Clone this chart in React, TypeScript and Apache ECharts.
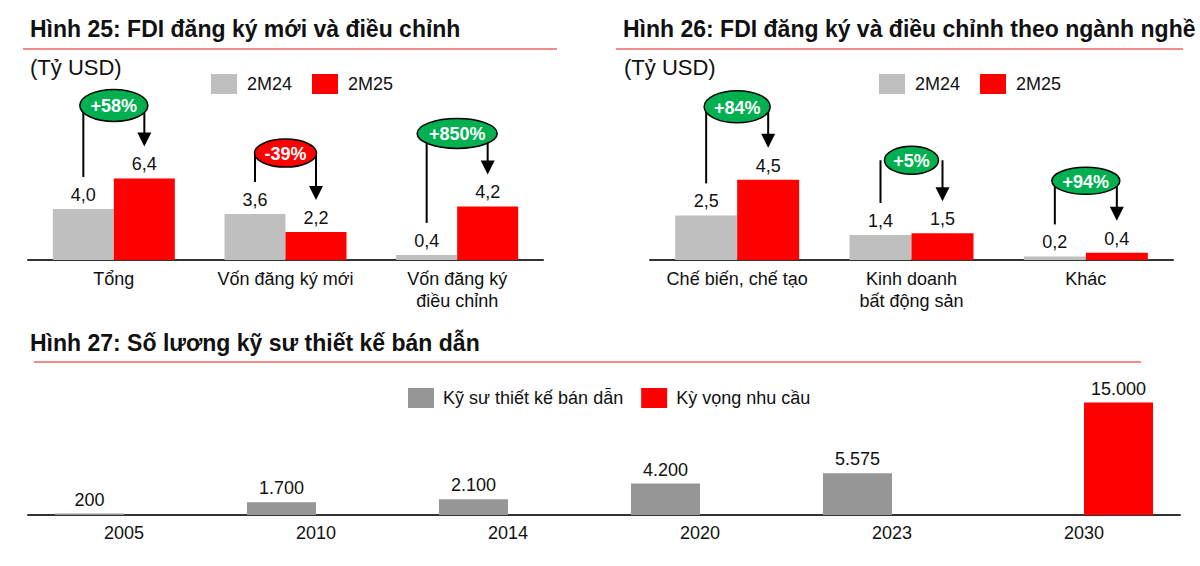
import React, { useEffect, useRef } from 'react';
import * as echarts from 'echarts';

// ---------- data ----------
const fdiCategories = ['Tổng', 'Vốn đăng ký mới', 'Vốn đăng ký\nđiều chỉnh'];
const fdi2M24 = [4.0, 3.6, 0.4];
const fdi2M25 = [6.4, 2.2, 4.2];
const fdiChange = ['+58%', '-39%', '+850%'];

const sectorCategories = ['Chế biến, chế tạo', 'Kinh doanh\nbất động sản', 'Khác'];
const sector2M24 = [2.5, 1.4, 0.2];
const sector2M25 = [4.5, 1.5, 0.4];
const sectorChange = ['+84%', '+5%', '+94%'];

const engineerYears = ['2005', '2010', '2014', '2020', '2023', '2030'];
const engineerCount = [200, 1700, 2100, 4200, 5575, null];
const engineerDemand = [null, null, null, null, null, 15000];

const seriesNames = ['2M24', '2M25'];
const engineerNames = ['Kỹ sư thiết kế bán dẫn', 'Kỳ vọng nhu cầu'];

// ---------- layout / style ----------
const FONT = '"Liberation Sans", Arial, Helvetica, sans-serif';
const TXT = '#111111';
const GRAY = '#bfbfbf';
const DARKGRAY = '#969696';
const RED = '#ff0000';
const GREEN = '#00b050';
const fdiLift = [73, 61, 73];
const fdiRx = [34, 31, 40];
const fdiRy = [16, 14, 15];
const sectorLift = [73, 73, 72];
const sectorRx = [33, 27, 34];
const sectorRy = [16, 14, 13.5];

const fmtDec = (v: number) => v.toFixed(1).replace('.', ',');
const fmtThousands = (v: number) => String(v).replace(/\B(?=(\d{3})+(?!\d))/g, '.');

const makeBracket = (labels: string[], barW: number, lifts: number[], rxs: number[], rys: number[]) =>
  (params: any, api: any) => {
    const i = params.dataIndex;
    const cat = api.value(0);
    const a = api.value(1);
    const b = api.value(2);
    const pa = api.coord([cat, a]);
    const pb = api.coord([cat, b]);
    const cx = pa[0];
    const xa = cx - barW / 2;
    const xb = cx + barW / 2;
    const ya = pa[1];
    const yb = pb[1];
    const cy = Math.min(ya, yb) - lifts[i];
    const gap = 32;
    const head = 14;
    const hw = 7;
    const fill = b >= a ? GREEN : RED;
    return {
      type: 'group',
      children: [
        { type: 'line', shape: { x1: xa, y1: cy, x2: xa, y2: ya - gap }, style: { stroke: '#000', lineWidth: 2 } },
        { type: 'line', shape: { x1: xb, y1: cy, x2: xb, y2: yb - gap - head + 1 }, style: { stroke: '#000', lineWidth: 2 } },
        {
          type: 'polygon',
          shape: { points: [[xb - hw, yb - gap - head], [xb + hw, yb - gap - head], [xb, yb - gap]] },
          style: { fill: '#000' },
        },
        { type: 'ellipse', shape: { cx, cy, rx: rxs[i], ry: rys[i] }, style: { fill, stroke: '#000', lineWidth: 1.5 } },
        {
          type: 'text',
          style: {
            x: cx,
            y: cy + 1,
            text: labels[i],
            fill: '#ffffff',
            fontSize: 18,
            fontWeight: 'bold',
            fontFamily: FONT,
            align: 'center',
            verticalAlign: 'middle',
          },
        },
      ],
    };
  };

const catAxis = (gridIndex: number, data: string[], fontSize: number, lineHeight: number) => ({
  gridIndex,
  type: 'category',
  data,
  axisLine: { show: true, lineStyle: { color: '#333333', width: 2 } },
  axisTick: { show: false },
  axisLabel: { interval: 0, fontSize, lineHeight, color: TXT, fontFamily: FONT, margin: 8 },
});

const valueLabel = (fontSize: number, fmt: (v: number) => string) => ({
  show: true,
  position: 'top',
  distance: 5,
  fontSize,
  color: TXT,
  fontFamily: FONT,
  formatter: (p: any) => (p.value == null ? '' : fmt(p.value)),
});

const legendBase = {
  itemWidth: 26,
  itemHeight: 20,
  icon: 'rect',
  selectedMode: false,
};

export default function App() {
  const ref = useRef<HTMLDivElement>(null);

  useEffect(() => {
    if (!ref.current) return;
    const chart = echarts.init(ref.current, undefined, { renderer: 'svg' });

    const titleStyle = (text: string) => ({
      text,
      fontSize: 23,
      fontWeight: 'bold',
      fontFamily: FONT,
      fill: TXT,
      verticalAlign: 'middle',
    });
    const unitStyle = {
      text: '(Tỷ USD)',
      fontSize: 22,
      fontFamily: FONT,
      fill: TXT,
      verticalAlign: 'middle',
    };

    chart.setOption({
      animation: false,
      backgroundColor: '#ffffff',
      textStyle: { fontFamily: FONT },
      grid: [
        { left: 28, top: 158, width: 515, height: 102 },
        { left: 650, top: 153, width: 523, height: 107 },
        { left: 28, top: 395, width: 1152, height: 120 },
      ],
      xAxis: [
        catAxis(0, fdiCategories, 18, 22),
        catAxis(1, sectorCategories, 18, 22),
        catAxis(2, engineerYears, 18, 20),
      ],
      yAxis: [
        { gridIndex: 0, type: 'value', min: 0, max: 8, show: false },
        { gridIndex: 1, type: 'value', min: 0, max: 6, show: false },
        { gridIndex: 2, type: 'value', min: 0, max: 16000, show: false },
      ],
      legend: [
        {
          ...legendBase,
          data: seriesNames,
          left: 206,
          top: 69,
          itemGap: 20,
          textStyle: { fontSize: 18, color: TXT, fontFamily: FONT, padding: [0, 0, 0, 5] },
        },
        {
          ...legendBase,
          data: seriesNames,
          left: 874,
          top: 69,
          itemGap: 20,
          textStyle: { fontSize: 18, color: TXT, fontFamily: FONT, padding: [0, 0, 0, 5] },
        },
        {
          ...legendBase,
          data: engineerNames,
          left: 403,
          top: 383,
          itemGap: 18,
          textStyle: { fontSize: 18, color: TXT, fontFamily: FONT, padding: [0, 0, 0, 4] },
        },
      ],
      series: [
        {
          name: seriesNames[0], type: 'bar', xAxisIndex: 0, yAxisIndex: 0, data: fdi2M24,
          barWidth: 61, barGap: '0%', itemStyle: { color: GRAY }, label: valueLabel(18, fmtDec),
        },
        {
          name: seriesNames[1], type: 'bar', xAxisIndex: 0, yAxisIndex: 0, data: fdi2M25,
          barWidth: 61, barGap: '0%', itemStyle: { color: RED }, label: valueLabel(18, fmtDec),
        },
        {
          name: seriesNames[0], type: 'bar', xAxisIndex: 1, yAxisIndex: 1, data: sector2M24,
          barWidth: 62, barGap: '0%', itemStyle: { color: GRAY }, label: valueLabel(18, fmtDec),
        },
        {
          name: seriesNames[1], type: 'bar', xAxisIndex: 1, yAxisIndex: 1, data: sector2M25,
          barWidth: 62, barGap: '0%', itemStyle: { color: RED }, label: valueLabel(18, fmtDec),
        },
        {
          name: engineerNames[0], type: 'bar', xAxisIndex: 2, yAxisIndex: 2, data: engineerCount,
          barWidth: 69, barGap: '0%', itemStyle: { color: DARKGRAY }, label: valueLabel(18, fmtThousands),
        },
        {
          name: engineerNames[1], type: 'bar', xAxisIndex: 2, yAxisIndex: 2, data: engineerDemand,
          barWidth: 69, barGap: '0%', itemStyle: { color: RED }, label: valueLabel(18, fmtThousands),
        },
        {
          type: 'custom', xAxisIndex: 0, yAxisIndex: 0, clip: false, z: 10,
          data: fdi2M24.map((v, i) => [i, v, fdi2M25[i]]),
          renderItem: makeBracket(fdiChange, 61, fdiLift, fdiRx, fdiRy),
        },
        {
          type: 'custom', xAxisIndex: 1, yAxisIndex: 1, clip: false, z: 10,
          data: sector2M24.map((v, i) => [i, v, sector2M25[i]]),
          renderItem: makeBracket(sectorChange, 62, sectorLift, sectorRx, sectorRy),
        },
      ],
      graphic: [
        { type: 'text', x: 30, y: 29, style: titleStyle('Hình 25: FDI đăng ký mới và điều chỉnh') },
        { type: 'text', x: 623, y: 29, style: titleStyle('Hình 26: FDI đăng ký và điều chỉnh theo ngành nghề') },
        { type: 'text', x: 30, y: 343, style: titleStyle('Hình 27: Số lương kỹ sư thiết kế bán dẫn') },
        { type: 'line', shape: { x1: 23, y1: 49, x2: 557, y2: 49 }, style: { stroke: '#f06464', lineWidth: 1.5 } },
        { type: 'line', shape: { x1: 616, y1: 49, x2: 1183, y2: 49 }, style: { stroke: '#f06464', lineWidth: 1.5 } },
        { type: 'line', shape: { x1: 34, y1: 362, x2: 1141, y2: 362 }, style: { stroke: '#f06464', lineWidth: 1.5 } },
        { type: 'text', x: 30, y: 67.5, style: unitStyle },
        { type: 'text', x: 624, y: 67.5, style: unitStyle },
      ],
    });

    return () => chart.dispose();
  }, []);

  return (
    <div
      ref={ref}
      style={{ position: 'fixed', left: 0, top: 0, width: 1200, height: 566, background: '#ffffff' }}
    />
  );
}
